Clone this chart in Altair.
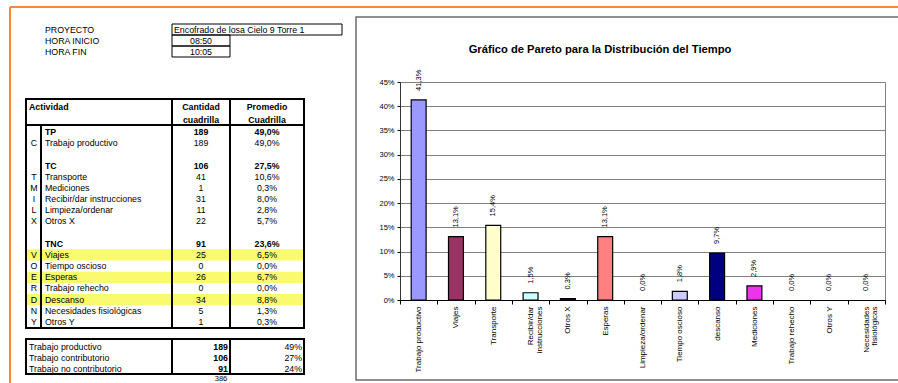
import altair as alt
import pandas as pd

# ---------------- data ----------------
info_etiquetas = ["PROYECTO", "HORA INICIO", "HORA FIN"]
info_valores = ["Encofrado de losa Cielo 9 Torre 1", "08:50", "10:05"]

encabezados_col = ["Cantidad", "cuadrilla", "Promedio", "Cuadrilla"]

letras = ["", "C", "", "", "T", "M", "I", "L", "X", "", "", "V", "O", "E", "R", "D", "N", "Y"]
actividades = ["TP", "Trabajo productivo", "", "TC", "Transporte", "Mediciones",
               "Recibir/dar instrucciones", "Limpieza/ordenar", "Otros X", "",
               "TNC", "Viajes", "Tiempo oscioso", "Esperas", "Trabajo rehecho",
               "Descanso", "Necesidades fisiológicas", "Otros Y"]
cantidades = [189, 189, None, 106, 41, 1, 31, 11, 22, None, 91, 25, 0, 26, 0, 34, 5, 1]
promedios = [49.0, 49.0, None, 27.5, 10.6, 0.3, 8.0, 2.8, 5.7, None, 23.6, 6.5, 0.0, 6.7, 0.0, 8.8, 1.3, 0.3]
grupos = ["TP", "TC", "TNC"]
resaltadas = ["V", "E", "D"]

resumen_tipos = ["Trabajo productivo", "Trabajo contributorio", "Trabajo no contributorio"]
resumen_cant = [189, 106, 91]
resumen_pct = [49, 27, 24]
total = 386

titulo = "Gráfico de Pareto para la Distribución del Tiempo"
categorias = ["Trabajo productivo", "Viajes", "Transporte", "Recibir/dar\ninstrucciones",
              "Otros X", "Esperas", "Limpieza/ordenar", "Tiempo oscioso", "descanso",
              "Mediciones", "Trabajo rehecho", "Otros Y", "Necesidades\nfisiológicas"]
porcentajes = [41.3, 13.1, 15.4, 1.5, 0.3, 13.1, 0.0, 1.8, 9.7, 2.9, 0.0, 0.0, 0.0]
colores = ["#9999FF", "#993366", "#FFFFCC", "#CCFFFF", "#660066", "#FF8080", "#0066CC",
           "#CCCCFF", "#000080", "#EE33EE", "#FFFF00", "#00FFFF", "#800080"]
ticks_y = [0, 5, 10, 15, 20, 25, 30, 35, 40, 45]

# ---------------- layout ----------------
X0, Y0 = 400, 82          # plot origin on the page
PW, PH = 485, 218         # plot size
FONT = "Liberation Sans"
FS = 8.8
one = pd.DataFrame({"k": [0]})


def rule(x1, y1, x2, y2, w=1.0, color="black"):
    return alt.Chart(one).mark_rule(color=color, strokeWidth=w).encode(
        x=alt.value(x1 - X0), x2=alt.value(x2 - X0),
        y=alt.value(y1 - Y0), y2=alt.value(y2 - Y0))


def frame(x1, y1, x2, y2, w=1.0, color="black"):
    return alt.Chart(one).mark_rect(fill="transparent", stroke=color, strokeWidth=w).encode(
        x=alt.value(x1 - X0), x2=alt.value(x2 - X0),
        y=alt.value(y1 - Y0), y2=alt.value(y2 - Y0))


def fmt_pct(v):
    return "" if v is None else f"{v:.1f}%".replace(".", ",")


layers = []

# orange page lines
layers.append(rule(10, 7, 898, 7, 2, "#F0883E"))
layers.append(rule(10, 7, 10, 383, 2, "#F0883E"))

# ---- project info ----
info_df = pd.DataFrame({"i": list(range(3)), "etiqueta": info_etiquetas, "valor": info_valores})
info_y = alt.Y("i:Q", scale=alt.Scale(domain=[0, 2], range=[30 - Y0, 52 - Y0]), axis=None)
layers.append(alt.Chart(info_df).mark_text(align="left", baseline="middle", font=FONT, fontSize=FS)
              .encode(x=alt.value(45 - X0), y=info_y, text="etiqueta:N"))
layers.append(alt.Chart(info_df).transform_filter("datum.i == 0")
              .mark_text(align="left", baseline="middle", font=FONT, fontSize=FS)
              .encode(x=alt.value(174 - X0), y=info_y, text="valor:N"))
layers.append(alt.Chart(info_df).transform_filter("datum.i > 0")
              .mark_text(align="center", baseline="middle", font=FONT, fontSize=FS)
              .encode(x=alt.value(201 - X0), y=info_y, text="valor:N"))
layers.append(frame(172, 24, 342, 35))
layers.append(frame(172, 35, 230, 46))
layers.append(frame(172, 46, 230, 57))

# ---- main table ----
tabla = pd.DataFrame({
    "r": list(range(len(letras))),
    "letra": letras,
    "act": actividades,
    "cant": ["" if c is None else str(c) for c in cantidades],
    "prom": [fmt_pct(p) for p in promedios],
    "negrita": [a in grupos for a in actividades],
    "resaltar": [l in resaltadas for l in letras],
})
row_scale = alt.Scale(domain=[0, 17], range=[132 - Y0, 322 - Y0])
rows_y = alt.Y("r:Q", scale=row_scale, axis=None)

layers.append(alt.Chart(tabla).transform_filter("datum.resaltar")
              .transform_calculate(r0="datum.r - 0.5", r1="datum.r + 0.5")
              .mark_rect(color="#FAFA6E")
              .encode(x=alt.value(27 - X0), x2=alt.value(303 - X0),
                      y=alt.Y("r0:Q", scale=row_scale, axis=None), y2="r1:Q"))


def col_text(field, x, align, bold):
    flt = "datum.negrita" if bold else "!datum.negrita"
    return (alt.Chart(tabla).transform_filter(flt)
            .mark_text(align=align, baseline="middle", font=FONT, fontSize=FS,
                       fontWeight="bold" if bold else "normal")
            .encode(x=alt.value(x - X0), y=rows_y, text=f"{field}:N"))


layers.append(col_text("letra", 34, "center", False))
for bold in (False, True):
    layers.append(col_text("act", 45, "left", bold))
    layers.append(col_text("cant", 201, "center", bold))
    layers.append(col_text("prom", 267, "center", bold))

# header
enc_df = pd.DataFrame({"txt": encabezados_col, "col": [0, 0, 1, 1], "linea": [0, 1, 0, 1]})
layers.append(alt.Chart(enc_df).mark_text(align="center", baseline="middle", font=FONT,
                                          fontSize=FS, fontWeight="bold")
              .encode(x=alt.X("col:Q", scale=alt.Scale(domain=[0, 1], range=[201 - X0, 267 - X0]), axis=None),
                      y=alt.Y("linea:Q", scale=alt.Scale(domain=[0, 1], range=[107 - Y0, 120 - Y0]), axis=None),
                      text="txt:N"))
layers.append(alt.Chart(pd.DataFrame({"t": ["Actividad"]}))
              .mark_text(align="left", baseline="middle", font=FONT, fontSize=FS, fontWeight="bold")
              .encode(x=alt.value(29 - X0), y=alt.value(107 - Y0), text="t:N"))

# table lines
layers += [frame(26, 99, 304, 328, 2), rule(26, 125, 304, 125, 2),
           rule(172, 99, 172, 328, 2), rule(230, 99, 230, 328, 2), rule(41, 125, 41, 328, 2)]

# ---- summary table ----
res_df = pd.DataFrame({"i": list(range(3)), "tipo": resumen_tipos, "cant": resumen_cant,
                       "pct": [f"{p}%" for p in resumen_pct]})
res_y = alt.Y("i:Q", scale=alt.Scale(domain=[0, 2], range=[347 - Y0, 369 - Y0]), axis=None)
layers.append(alt.Chart(res_df).mark_text(align="left", baseline="middle", font=FONT, fontSize=FS)
              .encode(x=alt.value(29 - X0), y=res_y, text="tipo:N"))
layers.append(alt.Chart(res_df).mark_text(align="right", baseline="middle", font=FONT, fontSize=FS,
                                          fontWeight="bold")
              .encode(x=alt.value(228 - X0), y=res_y, text="cant:Q"))
layers.append(alt.Chart(res_df).mark_text(align="right", baseline="middle", font=FONT, fontSize=FS)
              .encode(x=alt.value(302 - X0), y=res_y, text="pct:N"))
layers += [frame(26, 339, 304, 374, 2), rule(172, 339, 172, 374, 2), rule(230, 339, 230, 374, 2)]
layers.append(alt.Chart(pd.DataFrame({"t": [total]}))
              .mark_text(align="center", baseline="middle", font=FONT, fontSize=7.5)
              .encode(x=alt.value(221 - X0), y=alt.value(379 - Y0), text="t:Q"))

# ---- chart frame and title ----
layers.append(frame(356, 17, 910, 380, 1.5, "#6b6b6b"))
layers.append(alt.Chart(pd.DataFrame({"t": [titulo]}))
              .mark_text(align="center", baseline="middle", font=FONT, fontSize=11.2, fontWeight="bold")
              .encode(x=alt.value(600 - X0), y=alt.value(50 - Y0), text="t:N"))

# ---- Pareto bars ----
bar_df = pd.DataFrame({"cat": categorias, "pct": porcentajes})
x_scale = alt.Scale(domain=categorias, paddingInner=0, paddingOuter=0)
xenc = alt.X("cat:N", scale=x_scale, sort=categorias,
             axis=alt.Axis(title=None, labelAngle=-90, labelExpr="split(datum.label, '\\n')",
                           labelFontSize=8, labelFont=FONT, labelColor="black", labelLineHeight=8.5,
                           tickBand="extent", tickSize=4, tickColor="black", domainColor="black",
                           labelPadding=2, labelLimit=200, grid=False))
yenc = alt.Y("pct:Q", scale=alt.Scale(domain=[0, 45], nice=False),
             axis=alt.Axis(title=None, values=ticks_y, tickCount=10, labelExpr="datum.value + '%'",
                           labelOverlap=False,
                           grid=True, gridColor="#808080", gridWidth=1, labelFontSize=7.5,
                           labelFont=FONT, labelColor="black", tickSize=3, tickColor="black",
                           domainColor="#333333", labelPadding=3))
bars = (alt.Chart(bar_df).transform_filter("datum.pct > 0")
        .mark_bar(stroke="black", strokeWidth=1.2, width=alt.RelativeBandSize(0.4))
        .encode(x=xenc, y=yenc,
                color=alt.Color("cat:N", scale=alt.Scale(domain=categorias, range=colores), legend=None)))
bar_labels = (alt.Chart(bar_df)
              .transform_calculate(lbl="replace(format(datum.pct, '.1f'), '.', ',') + '%'")
              .mark_text(angle=270, align="left", baseline="middle", dx=9, font=FONT, fontSize=7.5,
                         color="black")
              .encode(x=xenc, y=yenc, text="lbl:N"))
layers.append(alt.layer(bars, bar_labels))

chart = (alt.layer(*layers)
         .resolve_scale(x="independent", y="independent")
         .properties(width=PW, height=PH, background="white",
                     autosize=alt.AutoSizeParams(type="none"),
                     padding={"left": X0, "top": Y0, "right": 898 - X0 - PW, "bottom": 383 - Y0 - PH})
         .configure_view(stroke="#808080", strokeWidth=1))

chart.save("out.html", embed_options={"renderer": "svg", "actions": False})
